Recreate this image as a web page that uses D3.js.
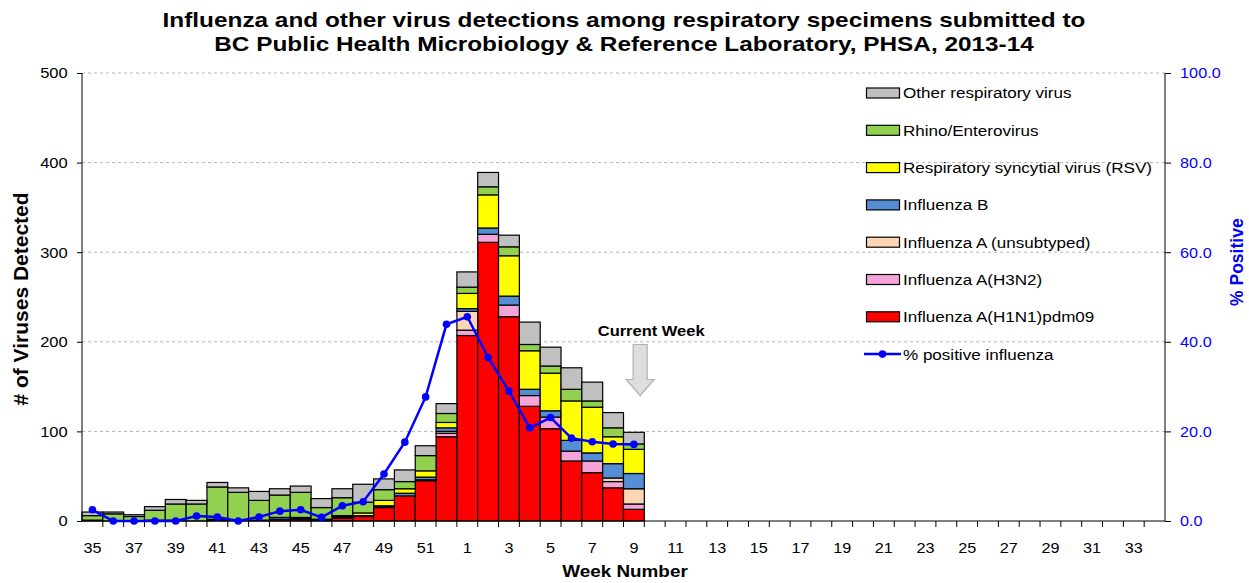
<!DOCTYPE html>
<html>
<head>
<meta charset="utf-8">
<script src="https://cdn.jsdelivr.net/npm/d3@7/dist/d3.min.js"></script>
<style>
    body { margin: 0; background: #fff; }
    svg { font-family: "Liberation Sans", Arial, sans-serif; }
    .grid line { stroke: #b5b5b5; stroke-dasharray: 3,3; }
    .axis path, .axis line { stroke: #000; }
    .axis text { font-size: 15px; fill: #000; }
    .axis.right text { fill: #0000ff; }
    .bar { stroke: #000; stroke-width: 1.2; }
    .pct-line { fill: none; stroke: #0000ff; stroke-width: 2.5; }
    .pct-dot { fill: #0000ff; }
    .legend text { font-size: 15.5px; }
</style>
</head>
<body>
<div id="chart"></div>
<script>
// surveillance weeks 35 (2013) .. 34 (2014)
const weeks = d3.range(35, 53).concat(d3.range(1, 35));

// counts per week, weeks 35..9 (later weeks not reported yet)
const h1n1      = [0,0,0,0,0,0, 1,0,0,2,2,1, 3,5,15,28,45,94, 207,311,228,128,103,67,54,37,13];
const h3n2      = [0,0,0,0,0,0, 0,0,0,0,1,0, 1,0,1,0,1,4, 6,9,13,12,13,11,13,7,6];
const fluAUnsub = [0,0,0,0,0,0, 0,0,0,0,0,0, 0,0,0,0,0,2, 21,0,0,0,0,0,0,4,17];
const fluB      = [1,0,0,1,1,0, 1,0,1,2,1,1, 1,1,1,3,3,4, 3,7,10,7,7,12,9,16,17];
const rsv       = [0,0,0,0,0,0, 0,0,0,0,0,0, 1,3,6,5,7,6, 17,37,45,43,42,44,51,30,27];
const rhino     = [5,8,5,11,18,19, 36,32,22,25,28,13, 20,12,12,8,17,10, 7,9,10,7,8,13,7,10,6];
const other     = [4,2,2,4,5,4, 5,5,10,7,7,10, 10,20,12,13,11,11, 17,16,13,25,21,24,21,17,13];
const pctPositive = [2.5,0,0,0,0,1.1, 0.9,0,0.9,2.2,2.5,0.8, 3.4,4.3,10.5,17.6,27.7,43.9, 45.6,36.5,29,20.8,23.1,18.5,17.7,17.2,17.1];

const yTicks = [0, 100, 200, 300, 400, 500];
const pctTicks = [0, 20, 40, 60, 80, 100];

const series = [
    {key: 'other', label: 'Other respiratory virus', color: '#c0c0c0', values: other},
    {key: 'rhino', label: 'Rhino/Enterovirus', color: '#92d050', values: rhino},
    {key: 'rsv', label: 'Respiratory syncytial virus (RSV)', color: '#ffff00', values: rsv},
    {key: 'fluB', label: 'Influenza B', color: '#558ed5', values: fluB},
    {key: 'fluAUnsub', label: 'Influenza A (unsubtyped)', color: '#fcd5b5', values: fluAUnsub},
    {key: 'h3n2', label: 'Influenza A(H3N2)', color: '#f4a4d8', values: h3n2},
    {key: 'h1n1', label: 'Influenza A(H1N1)pdm09', color: '#ff0000', values: h1n1}
];

const W = 1249, H = 583;
const m = {left: 82, right: 84, top: 73, bottom: 62};

// the original's text is a bit wider than Arial, stretch it horizontally
function stretch(sel, sx) {
    sel.attr('transform', function () {
        let t = d3.select(this).attr('transform') || '';
        return t + ' scale(' + sx + ',1)';
    });
}

const svg = d3.select('#chart').append('svg')
    .attr('width', W)
    .attr('height', H);

const x = d3.scaleBand().domain(weeks).range([m.left, W - m.right]).padding(0);
const y = d3.scaleLinear().domain([0, 500]).range([H - m.bottom, m.top]);
const yPct = d3.scaleLinear().domain([0, 100]).range([H - m.bottom, m.top]);

// gridlines
svg.append('g').attr('class', 'grid')
    .selectAll('line')
    .data(yTicks.slice(1))
    .enter().append('line')
    .attr('x1', m.left).attr('x2', W - m.right)
    .attr('y1', d => y(d)).attr('y2', d => y(d));

// stacked bars, bottom layer is H1N1
const table = weeks.map((w, i) => {
    let row = {week: w};
    series.forEach(s => row[s.key] = s.values[i] || 0);
    return row;
});
const stackKeys = series.map(s => s.key).reverse();
const stacked = d3.stack().keys(stackKeys)(table);
const colorOf = {};
series.forEach(s => colorOf[s.key] = s.color);

svg.append('g').selectAll('g')
    .data(stacked)
    .enter().append('g')
    .attr('fill', d => colorOf[d.key])
    .selectAll('rect')
    .data(d => d.filter(p => p[1] - p[0] > 0))
    .enter().append('rect')
    .attr('class', 'bar')
    .attr('x', d => x(d.data.week))
    .attr('width', x.bandwidth())
    .attr('y', d => y(d[1]))
    .attr('height', d => y(d[0]) - y(d[1]));

// axes
const yAxis = d3.axisLeft(y).tickValues(yTicks).tickSize(5).tickPadding(8);
svg.append('g').attr('class', 'axis left')
    .attr('transform', 'translate(' + m.left + ',0)')
    .call(yAxis)
    .call(g => g.select('.domain').attr('d', 'M0,' + y(500) + 'V' + y(0)))
    .call(g => stretch(g.selectAll('text'), 1.1));

const pctAxis = d3.axisRight(yPct).tickValues(pctTicks).tickSize(6).tickPadding(8)
    .tickFormat(d3.format('.1f'));
svg.append('g').attr('class', 'axis right')
    .attr('transform', 'translate(' + (W - m.right) + ',0)')
    .call(pctAxis)
    .call(g => g.select('.domain').attr('d', 'M0,' + yPct(100) + 'V' + yPct(0)))
    .call(g => stretch(g.selectAll('text'), 1.08));

// x axis: labels every second week, ticks on band edges
const xAxis = d3.axisBottom(x)
    .tickValues(weeks.filter((w, i) => i % 2 === 0))
    .tickSize(0).tickPadding(21);
svg.append('g').attr('class', 'axis bottom')
    .attr('transform', 'translate(0,' + (H - m.bottom) + ')')
    .call(xAxis)
    .call(g => g.select('.domain').attr('d', 'M' + m.left + ',0H' + (W - m.right)))
    .call(g => stretch(g.selectAll('text'), 1.08));

svg.append('g')
    .selectAll('line')
    .data(weeks.slice(1))
    .enter().append('line')
    .attr('x1', d => x(d)).attr('x2', d => x(d))
    .attr('y1', H - m.bottom).attr('y2', H - m.bottom + 6)
    .attr('stroke', '#000');

// % positive line
const pctPts = pctPositive.map((v, i) => ({week: weeks[i], v: v}));
const line = d3.line()
    .x(d => x(d.week) + x.bandwidth() / 2)
    .y(d => yPct(d.v));
svg.append('path').datum(pctPts)
    .attr('class', 'pct-line')
    .attr('d', line);
svg.append('g').selectAll('circle')
    .data(pctPts)
    .enter().append('circle')
    .attr('class', 'pct-dot')
    .attr('r', 3.8)
    .attr('cx', d => x(d.week) + x.bandwidth() / 2)
    .attr('cy', d => yPct(d.v));

// titles
const titleLines = ['Influenza and other virus detections among respiratory specimens submitted to',
    'BC Public Health Microbiology & Reference Laboratory, PHSA, 2013-14'];
svg.append('g').selectAll('text')
    .data(titleLines)
    .enter().append('text')
    .attr('transform', (d, i) => 'translate(624,' + (27 + i * 24) + ') scale(1.16,1)')
    .attr('text-anchor', 'middle')
    .attr('font-weight', 'bold')
    .attr('font-size', 21)
    .text(d => d);

svg.append('text')
    .attr('transform', 'translate(28,' + (y(250) + 2) + ') rotate(-90)')
    .attr('text-anchor', 'middle')
    .attr('font-weight', 'bold')
    .attr('font-size', 21)
    .text('# of Viruses Detected');

svg.append('text')
    .attr('transform', 'translate(1243,' + (yPct(58) + 1) + ') rotate(-90)')
    .attr('text-anchor', 'middle')
    .attr('font-weight', 'bold')
    .attr('font-size', 17.5)
    .attr('fill', '#0000ff')
    .text('% Positive');

svg.append('text')
    .attr('transform', 'translate(625,577) scale(1.18,1)')
    .attr('text-anchor', 'middle')
    .attr('font-weight', 'bold')
    .attr('font-size', 16)
    .text('Week Number');

// current week marker
const ax = x(9) + x.bandwidth() * 0.8;
const ay = y(197);
svg.append('text')
    .attr('transform', 'translate(' + (ax + 11) + ',' + (ay - 8) + ') scale(1.1,1)')
    .attr('text-anchor', 'middle')
    .attr('font-weight', 'bold')
    .attr('font-size', 15)
    .text('Current Week');
svg.append('path')
    .attr('d', 'M' + (ax - 7) + ',' + ay + 'h14v35h7l-14,16l-14,-16h7z')
    .attr('fill', '#dedede')
    .attr('stroke', '#b0b0b0')
    .attr('stroke-width', 1.2);

// legend
const legend = svg.append('g').attr('class', 'legend')
    .attr('transform', 'translate(866,93)');
const items = legend.selectAll('g')
    .data(series.concat([{label: '% positive influenza', line: true}]))
    .enter().append('g')
    .attr('transform', (d, i) => 'translate(0,' + i * 37.3 + ')');
items.filter(d => !d.line).append('rect')
    .attr('x', 0.5).attr('y', -5)
    .attr('width', 33).attr('height', 10)
    .attr('fill', d => d.color)
    .attr('stroke', '#000').attr('stroke-width', 1.2);
const lineItem = items.filter(d => d.line);
lineItem.append('line')
    .attr('x1', -2).attr('x2', 35)
    .attr('stroke', '#0000ff').attr('stroke-width', 2.5);
lineItem.append('circle').attr('cx', 16.5).attr('r', 3.8).attr('fill', '#0000ff');
items.append('text')
    .attr('transform', 'translate(37,0) scale(1.1,1)')
    .attr('dy', '0.35em')
    .text(d => d.label);
</script>
</body>
</html>
